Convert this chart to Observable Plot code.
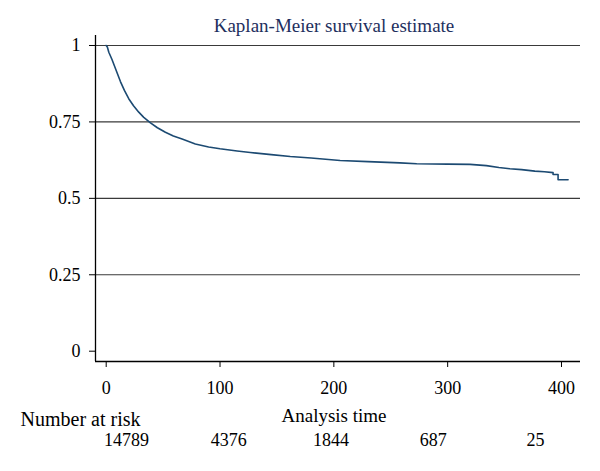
<!DOCTYPE html>
<html>
<head>
<meta charset="utf-8">
<script src="https://cdn.jsdelivr.net/npm/d3@7"></script>
<script src="https://cdn.jsdelivr.net/npm/@observablehq/plot@0.6"></script>
<style>
  body { margin: 0; background: white; }
  #wrap { position: relative; width: 600px; height: 471px; font-family: "Liberation Serif", "DejaVu Serif", serif; }
  #risk { position: absolute; left: 0; top: 400px; }
</style>
</head>
<body>
<div id="wrap"><div id="main"></div><div id="risk"></div></div>
<script>
// Kaplan-Meier estimate
const times = [0, 1, 2.3, 5, 8.2, 12.5, 16, 19.8, 24, 28.6, 33, 38.9, 45, 52, 59, 66.7, 78.3, 90, 100, 115, 126.6, 145, 161.7, 180, 205.5, 230, 258, 272.8, 300, 319.6, 334, 345, 354.6, 365, 376.6, 385, 392.6, 392.6, 397, 397, 405.8];
const survival = [1, 0.995, 0.978, 0.955, 0.924, 0.882, 0.853, 0.826, 0.803, 0.782, 0.765, 0.747, 0.731, 0.716, 0.704, 0.694, 0.678, 0.668, 0.662, 0.655, 0.650, 0.643, 0.637, 0.632, 0.624, 0.620, 0.616, 0.613, 0.612, 0.611, 0.607, 0.601, 0.597, 0.594, 0.589, 0.587, 0.584, 0.578, 0.578, 0.561, 0.561];
const xTicks = [0, 100, 200, 300, 400];
const yTicks = [0, 0.25, 0.5, 0.75, 1];
const gridLevels = [0.25, 0.5, 0.75, 1];
const riskTimes = [0, 100, 200, 300, 400];
const riskCounts = [14789, 4376, 1844, 687, 25];
const titleText = "Kaplan-Meier survival estimate";
const xLabel = "Analysis time";
const riskLabel = "Number at risk";

const km = times.map((t, i) => ({t, s: survival[i]}));
const risk = riskTimes.map((t, i) => ({t, n: riskCounts[i]}));

const xDomain = [-9.4, 416.7];
const yDomain = [-0.0337, 1.0327];
const FONT = "Liberation Serif, DejaVu Serif, serif";

const main = Plot.plot({
  width: 600,
  height: 471,
  marginLeft: 95,
  marginRight: 20,
  marginTop: 35,
  marginBottom: 110,
  style: {fontFamily: FONT, fontSize: "18px", color: "black", background: "transparent"},
  x: {domain: xDomain},
  y: {domain: yDomain},
  marks: [
    Plot.ruleY(gridLevels, {stroke: "#3a3a3a", strokeWidth: 1.2}),
    Plot.ruleX([xDomain[0]], {stroke: "black", strokeWidth: 1.3}),
    Plot.ruleY([yDomain[0]], {stroke: "black", strokeWidth: 1.3}),
    Plot.axisY({ticks: yTicks, tickSize: 6, tickPadding: 9, tickFormat: d => String(d), label: null, fontSize: 18}),
    Plot.axisX({ticks: xTicks, tickSize: 6, tickPadding: 14, tickFormat: d => String(d), label: null, fontSize: 18}),
    Plot.text([xLabel], {frameAnchor: "bottom", dx: -4, dy: 60, fontSize: 19, fill: "black"}),
    Plot.line(km, {x: "t", y: "s", stroke: "#1c4a72", strokeWidth: 1.6, curve: "linear"}),
    Plot.text([titleText], {frameAnchor: "top", dx: -4, dy: -4, lineAnchor: "bottom", fontSize: 19, fill: "#1e2f5e"})
  ]
});
document.getElementById("main").appendChild(main);

const riskPlot = Plot.plot({
  width: 600,
  height: 60,
  margin: 0,
  style: {fontFamily: FONT, fontSize: "18px", color: "black", background: "transparent"},
  x: {domain: [0, 400], range: [126, 535], axis: null},
  y: {domain: ["label", "counts"], range: [19, 40], type: "point", padding: 0, axis: null},
  marks: [
    Plot.text([riskLabel], {frameAnchor: "left", y: () => "label", dx: 20, textAnchor: "start", fontSize: 20, fill: "black"}),
    Plot.text(risk, {x: "t", y: () => "counts", text: d => String(d.n), fontSize: 18, fill: "black"})
  ]
});
document.getElementById("risk").appendChild(riskPlot);
</script>
</body>
</html>
